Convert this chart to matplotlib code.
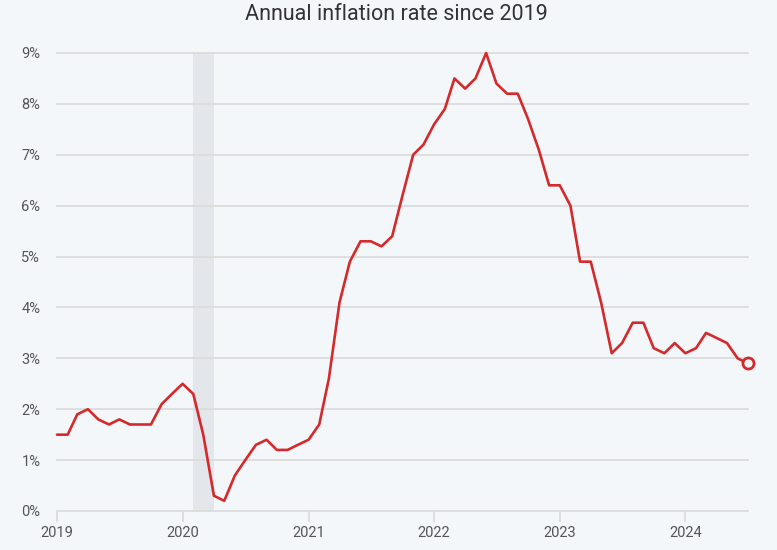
import matplotlib
matplotlib.use("Agg")
import matplotlib.pyplot as plt
import matplotlib.dates as mdates
import numpy as np
import pandas as pd

# monthly annual inflation rate (%)
rate_2019 = [1.5, 1.5, 1.9, 2.0, 1.8, 1.7, 1.8, 1.7, 1.7, 1.7, 2.1, 2.3]
rate_2020 = [2.5, 2.3, 1.5, 0.3, 0.2, 0.7, 1.0, 1.3, 1.4, 1.2, 1.2, 1.3]
rate_2021 = [1.4, 1.7, 2.6, 4.1, 4.9, 5.3, 5.3, 5.2, 5.4, 6.2, 7.0, 7.2]
rate_2022 = [7.6, 7.9, 8.5, 8.3, 8.5, 9.0, 8.4, 8.2, 8.2, 7.7, 7.1, 6.4]
rate_2023 = [6.4, 6.0, 4.9, 4.9, 4.1, 3.1, 3.3, 3.7, 3.7, 3.2, 3.1, 3.3]
rate_2024 = [3.1, 3.2, 3.5, 3.4, 3.3, 3.0, 2.9]

rates = rate_2019 + rate_2020 + rate_2021 + rate_2022 + rate_2023 + rate_2024
dates = pd.date_range("2019-01-01", periods=len(rates), freq="MS")

recession_start = "2020-02-01"
recession_end = "2020-04-01"

year_ticks = ["2019", "2020", "2021", "2022", "2023", "2024"]
pct_ticks = list(range(0, 10))

bg = "#f4f7fa"
red = "#d42a2c"
grid_col = "#dcdcdc"

plt.rcParams["font.family"] = ["Roboto", "DejaVu Sans"]

fig = plt.figure(figsize=(7.77, 5.5), dpi=100, facecolor=bg)
ax = fig.add_axes([57 / 777, 1 - 511 / 550, (748 - 57) / 777, (511 - 53) / 550])
ax.set_facecolor(bg)

ax.axvspan(pd.Timestamp(recession_start), pd.Timestamp(recession_end),
           color="#e3e6ea", zorder=0, lw=0)

for v in pct_ticks:
    ax.axhline(v, color=grid_col, lw=1.3, zorder=1, clip_on=False)

ax.plot(dates, rates, color=red, lw=1.9, solid_joinstyle="round",
        solid_capstyle="round", zorder=3, clip_on=False)
ax.plot(dates[-1:], rates[-1:], "o", ms=8, mfc=bg, mec=red, mew=2,
        zorder=4, clip_on=False)

ax.set_xlim(pd.Timestamp("2019-01-01"), dates[-1])
ax.set_ylim(0, 9)

ax.set_xticks([pd.Timestamp(y + "-01-01") for y in year_ticks])
ax.xaxis.set_major_formatter(mdates.DateFormatter("%Y"))
ax.set_yticks(pct_ticks)
ax.set_yticklabels([f"{v}%" for v in pct_ticks])

for s in ax.spines.values():
    s.set_visible(False)

ax.tick_params(axis="x", length=8, width=1.3, color=grid_col, pad=3,
               labelsize=10.5, labelcolor="#555555")
ax.tick_params(axis="y", length=0, pad=12, labelsize=10.5, labelcolor="#555555")

fig.text(396 / 777, 1 - 15 / 550, "Annual inflation rate since 2019",
         ha="center", va="center", fontsize=15.5, color="#333333")

fig.savefig("out.png", dpi=100, facecolor=bg)
